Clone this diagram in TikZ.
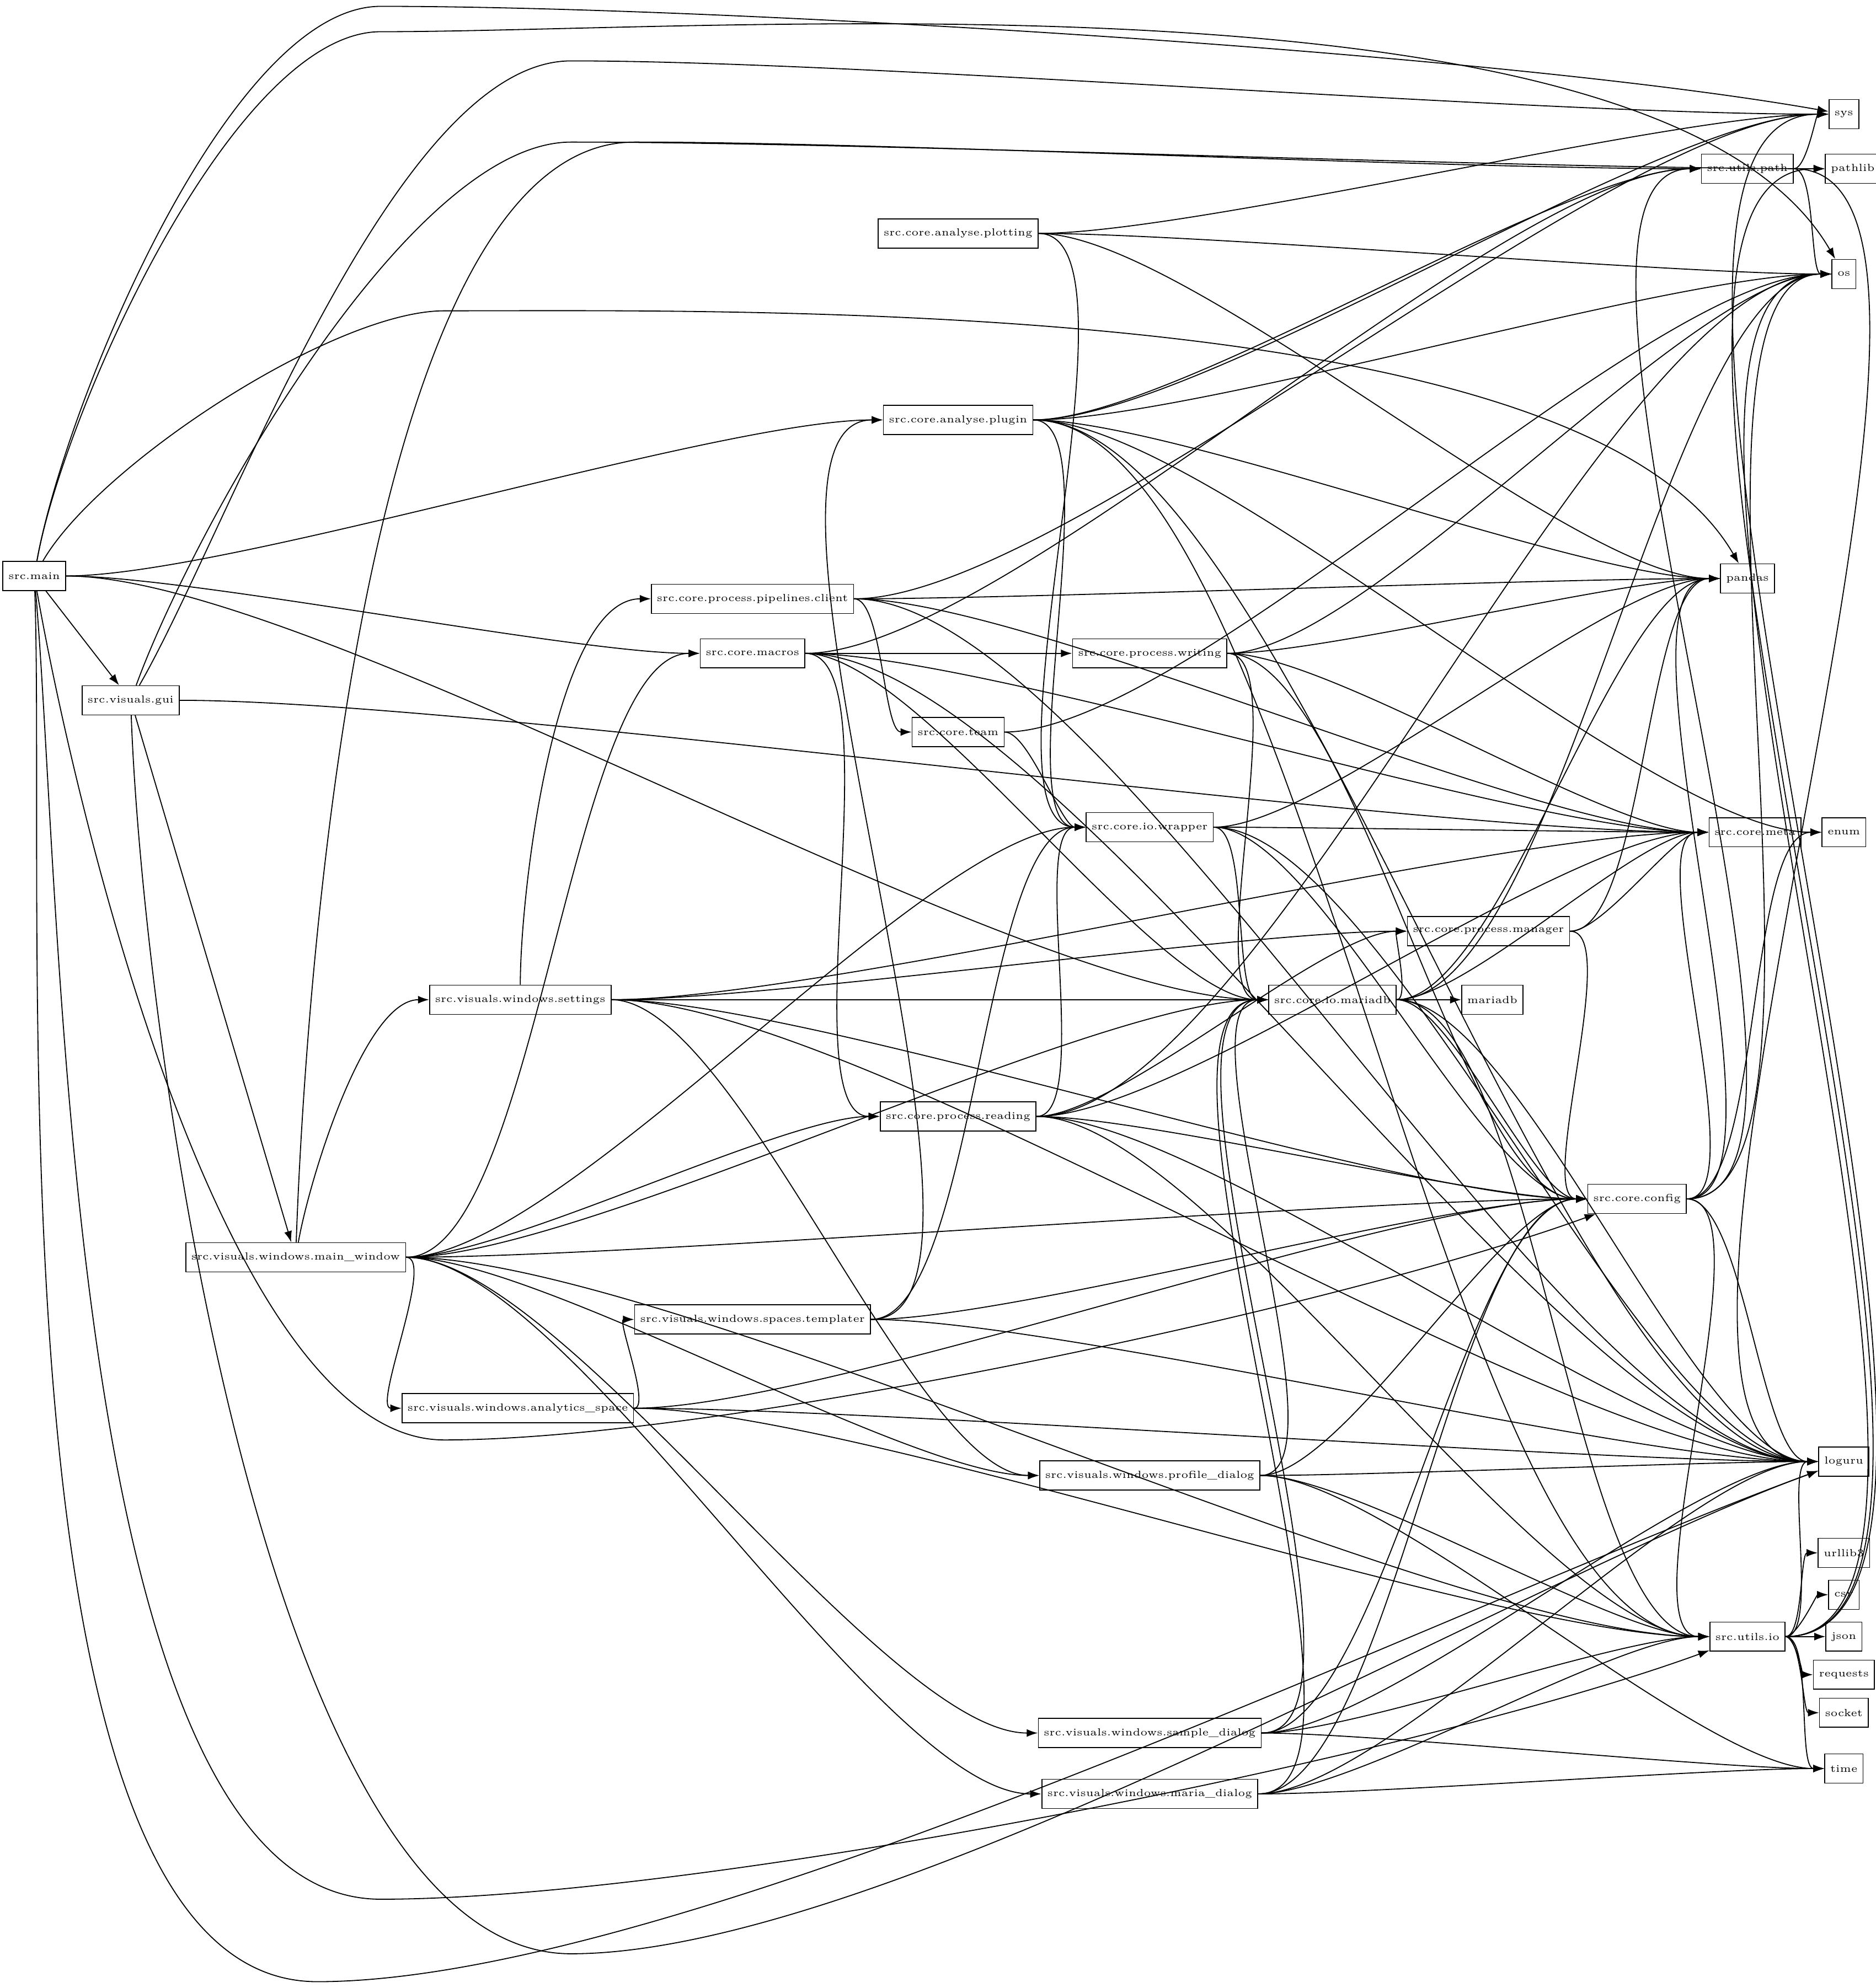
\documentclass[tikz,border=0pt]{standalone}
\usetikzlibrary{arrows.meta}
\begin{document}
\begin{tikzpicture}[x=0.02cm,y=-0.02cm,
  m/.style={draw,fill=white,font=\fontsize{4.6}{5}\selectfont,inner xsep=2.5pt,inner ysep=0pt,minimum height=0.46cm},
  arr/.style={-{Latex[length=5pt,width=3.5pt]},line width=0.45pt}]
\useasboundingbox (0,0) rectangle (1478,1567);
\foreach \n/\x/\y/\t in {
 main/27/454/src.main, gui/103/552/src.visuals.gui, mw/233/991/src.visuals.windows.main\_window,
 set/410/788/src.visuals.windows.settings, an/408/1110/src.visuals.windows.analytics\_space,
 tem/593/1040/src.visuals.windows.spaces.templater, pd/906/1163/src.visuals.windows.profile\_dialog,
 sd/906/1366/src.visuals.windows.sample\_dialog, md/906/1414/src.visuals.windows.maria\_dialog,
 pc/593/472/src.core.process.pipelines.client, mac/593/515/src.core.macros, team/755/577/src.core.team,
 plot/755/184/src.core.analyse.plotting, plug/755/331/src.core.analyse.plugin,
 wr/906/515/src.core.process.writing, wrap/906/652/src.core.io.wrapper, rd/755/880/src.core.process.reading,
 mdb/1050/788/src.core.io.mariadb, man/1173/734/src.core.process.manager, mariadb/1176/788/mariadb,
 cfg/1290/945/src.core.config, meta/1383/656/src.core.meta, up/1377/133/src.utils.path,
 uio/1377/1290/src.utils.io, pandas/1377/456/pandas, sys/1453/90/sys, pathlib/1460/133/pathlib,
 os/1453/216/os, enum/1453/656/enum, loguru/1453/1152/loguru, urllib3/1453/1224/urllib3,
 csv/1453/1257/csv, json/1453/1290/json, requests/1453/1320/requests, socket/1453/1350/socket,
 time/1453/1394/time}
 \node[m] (\n) at (\x,\y) {\t};
\foreach \a/\b in {
 main/plug, main/mac, main/mdb, gui/meta, mw/mac, mw/wrap, mw/mdb, mw/rd, mw/cfg, mw/an, mw/pd, mw/sd, mw/md, mw/uio,
 set/meta, set/man, set/mdb, set/cfg, set/pd, set/loguru, an/tem, an/cfg, an/loguru, an/uio,
 tem/plug, tem/wrap, tem/cfg, tem/loguru, pd/mdb, pd/cfg, pd/loguru, pd/uio, pd/time,
 sd/mdb, sd/cfg, sd/uio, sd/time, sd/loguru, md/mdb, md/cfg, md/uio, md/loguru, md/time,
 pc/sys, pc/pandas, pc/team, pc/meta, pc/loguru, mac/up, mac/loguru, mac/wr, mac/rd, mac/mdb, mac/meta,
 team/wrap, team/os, plot/sys, plot/os, plot/pandas, plot/wrap,
 plug/sys, plug/up, plug/os, plug/loguru, plug/enum, plug/pandas, plug/wrap, plug/uio,
 wr/pandas, wr/meta, wr/mdb, wr/cfg, wr/os,
 wrap/meta, wrap/mdb, wrap/cfg, wrap/pandas, wrap/loguru,
 rd/wrap, rd/man, rd/meta, rd/cfg, rd/loguru, rd/uio, rd/os,
 mdb/mariadb, mdb/man, mdb/cfg, mdb/meta, mdb/loguru, mdb/uio, mdb/pandas, mdb/os,
 man/pandas, man/meta, man/cfg, cfg/up, cfg/pandas, cfg/meta, cfg/uio, cfg/loguru, cfg/enum, cfg/os,
 meta/enum, up/sys, up/pathlib, up/os, up/loguru,
 uio/sys, uio/os, uio/loguru, uio/urllib3, uio/csv, uio/json, uio/requests, uio/socket, uio/time, uio/pathlib}
 \draw[arr] (\a) to[out=0,in=180,looseness=0.5] (\b);
\draw[arr] (main) to[out=80,in=180,looseness=0.6] (300,5) to[out=0,in=170,looseness=0.6] (sys);
\draw[arr] (main) to[out=80,in=180,looseness=0.6] (300,25) to[out=0,in=120,looseness=0.6] (os);
\draw[arr] (main) to[out=60,in=180,looseness=0.6] (350,245) to[out=0,in=120,looseness=0.6] (pandas);
\draw[arr] (main) -- (gui);
\draw[arr] (main) to[out=-80,in=180,looseness=0.6] (350,1135) to[out=0,in=200,looseness=0.6] (cfg);
\draw[arr] (main) to[out=-85,in=180,looseness=0.6] (300,1497) to[out=0,in=200,looseness=0.6] (uio);
\draw[arr] (main) to[out=-88,in=180,looseness=0.6] (250,1562) to[out=0,in=200,looseness=0.6] (loguru);
\draw[arr] (gui) to[out=60,in=180,looseness=0.6] (450,48) to[out=0,in=180,looseness=0.6] (sys);
\draw[arr] (gui) to[out=70,in=180,looseness=0.6] (450,112) to[out=0,in=180,looseness=0.6] (pathlib);
\draw[arr] (gui) -- (mw);
\draw[arr] (gui) to[out=-88,in=180,looseness=0.6] (450,1540) to[out=0,in=200,looseness=0.6] (loguru);
\draw[arr] (mw) to[out=88,in=180,looseness=0.6] (500,112) to[out=0,in=180,looseness=0.6] (up);
\draw[arr] (mw) to[out=80,in=180,looseness=0.6] (set);
\draw[arr] (set) to[out=90,in=180,looseness=0.6] (pc);
\end{tikzpicture}
\end{document}
